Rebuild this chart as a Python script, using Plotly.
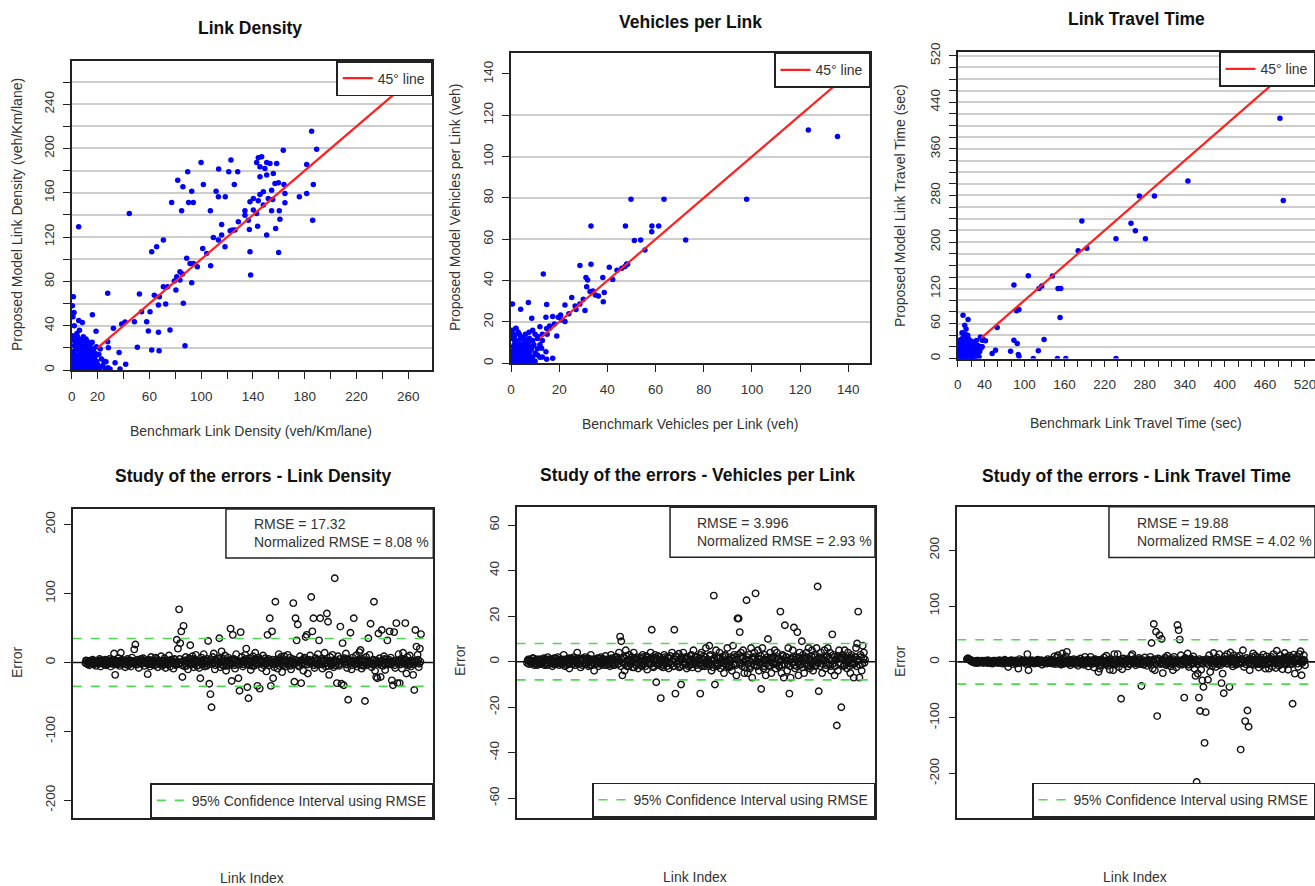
import plotly.graph_objects as go

W, H = 1315, 886
F = "Liberation Sans, Arial, Helvetica, sans-serif"

# ---------------- Panel 1: Link Density (benchmark vs proposed) ----------------
ld_bench = [185.3, 189.2, 163.4, 99.9, 123, 113.5, 121.3, 128.2, 81.9, 89.6, 92.7, 85.9, 101.7, 125.6, 111.5,
            113.3, 118.6, 77.2, 90.3, 93.9, 84.9, 107.1, 115.8, 113.3, 124.1, 70.8, 65.6, 61.8, 101.2, 104.3,
            118.4, 44.5, 5.4, 88.8, 91.4, 107.3, 137.7, 159.8, 138.2, 79.3, 83.6, 85.6, 80.5, 70.8, 92.7,
            63.8, 52.3, 27.8, 67, 72.6, 86.2, 57.9, 48.4, 59.2, 67, 75.9, 87.5, 50.7, 61.8, 67.5,
            32.2, 38.6, 41.2, 27.8, 36.6, 28.3, 16, 5.4, 8.2, 1.3, 1.8, 19.3, 26.5, 33.5, 41.7, 37.3, 29.6,
            144.1, 146.7, 142.8, 150.6, 153.1, 145.4, 149.2, 158.3, 145.4, 150.6, 157, 159.6, 154.4, 148,
            145.4, 163.9, 164.7, 151.8, 155.2, 137.7, 140.3, 133.8, 142.8, 136.4, 154.4, 160.3, 160.8, 143.6,
            137.2, 150.6, 157.5, 175.8, 181.5, 186.6, 186.1, 181.5, 164.7, 140.3, 126.1, 144.1, 148, 155.7,
            94, 97, 109.4, 115.8, 122.4, 133.8, 128.7, 83.6, 81.1, 74.1, 67.7, 60.5, 54,
            0.5, 1, 1.5, 2, 2, 3, 3, 3.5, 4, 4, 5, 5, 5.5, 6, 6, 7, 7, 7.5, 8, 8, 8.5, 9, 9, 10, 10, 10.5,
            11, 11, 12, 12, 12.5, 13, 13, 14, 14, 15, 15, 16, 16, 17, 17, 18, 18, 19, 19, 20, 21, 22, 23,
            24, 26, 28, 2, 1, 0.5, 4, 6, 9, 11, 0.3, 2, 6, 9, 13, 16, 20, 1, 3, 7, 12, 14, 17, 22, 25,
            0.2, 0.8, 1.2, 1.8, 2.5, 2.8, 3.2, 3.8, 4.2, 4.8, 5.2, 5.8, 6.3, 6.8, 7.2, 7.8, 8.3, 8.8, 9.3,
            9.8, 10.3, 10.8, 11.3, 11.8, 12.3, 12.8, 13.3, 13.8, 14.3, 14.8, 15.3, 15.8, 16.3, 16.8, 17.3,
            17.8, 18.3, 18.8, 0.5, 1.5, 2.5, 3.5, 4.5, 5.5, 6.5, 7.5, 8.5, 9.5, 10.5, 11.5, 12.5, 13.5,
            14.5, 15.5, 16.5, 17.5]
ld_model = [215.6, 199.4, 198.5, 187.4, 189.5, 181.4, 179, 179, 171.4, 179, 161.5, 165.4, 167.5, 167.5, 161.5,
            156.4, 156.4, 151.3, 151.3, 151.3, 143.8, 143.8, 131.4, 117.3, 126.3, 117.3, 111.3, 106.8, 109.8, 105.3,
            111.3, 141.4, 129.3, 100.8, 96.2, 94.1, 106.8, 106.2, 85.7, 80.3, 81.2, 86.6, 72.2, 75.2, 78.8,
            67.4, 68.6, 69.2, 58.6, 59.5, 60.2, 43.6, 43.6, 35.2, 34, 36.1, 22, 20.5, 18, 17.4,
            37.6, 41.5, 43.3, 25.6, 15.9, 20.2, 49.9, 44.8, 43, 66.2, 52, 7.5, 7.5, 6.6, 5.1, 0.9, 0.9,
            191.6, 192.5, 187.4, 187.4, 186.5, 183.5, 182, 186.5, 174.4, 176, 168.4, 169, 162.4, 160.9,
            158.5, 167.5, 151, 154.9, 154, 151.9, 144.4, 143.8, 141.4, 135.3, 143.8, 143.8, 136.2, 129.9,
            126.9, 121.8, 127.8, 156.4, 159.4, 167.5, 135.3, 185.6, 159.4, 154.9, 126.3, 152.8, 148.9, 177.4,
            96.2, 93.2, 119.7, 121.8, 125.7, 139.8, 133.8, 88.7, 84.2, 75.2, 66.2, 52.6, 52.6,
            3, 8, 15, 22, 5, 12, 30, 1, 18, 7, 25, 2, 10, 14, 4, 20, 9, 1, 28, 12, 5, 17, 2, 8, 22, 13,
            3, 18, 10, 26, 1, 15, 6, 20, 2, 11, 24, 7, 16, 3, 19, 12, 1, 8, 21, 5, 14, 2, 10,
            4, 1, 2, 40, 48, 58, 33, 36, 30, 28, 0.5, 1, 0.5, 0.5, 0.5, 0.3, 0.5, 27, 20, 15, 4, 9, 13, 19, 8,
            6, 11, 2, 17, 9, 24, 4, 13, 28, 1, 19, 7, 22, 11, 3, 16, 26, 8, 12,
            1, 18, 5, 14, 23, 9, 2, 20, 11, 4, 17, 7, 25, 1, 13,
            10, 4, 15, 35, 31, 27, 12, 9, 30, 5, 24, 13, 19, 6, 10, 22, 17, 3,
            14, 8, 19, 6]
ld_line = [20, 280]
ld_xticks = list(range(0, 261, 20))
ld_xlabels = ["0", "20", "", "60", "", "100", "", "140", "", "180", "", "220", "", "260"]
ld_yticks = list(range(0, 261, 20))
ld_ylabels = ["0", "", "40", "", "80", "", "120", "", "160", "", "200", "", "240", ""]
ld_grid = list(range(20, 261, 20))

# ---------------- Panel 2: Vehicles per Link ----------------
vl_bench = [123.4, 135.5, 97.8, 49.8, 63.5, 33.2, 47.5, 58.5, 61.3, 58.4, 51.2, 53.8, 72.5, 55.6, 47.3,
            48.4, 40.8, 28.6, 33.2, 13.4, 31.1, 31.8, 38.1, 42.2, 31.4, 32.8, 38.7, 36.3, 38.3, 30.7,
            25.2, 28.6, 26.6, 22.4, 14.8, 7.2, 0.6, 4, 19.6, 14.5, 17.3, 19, 22.4, 20.6, 8.6, 2.1, 12,
            14.8, 12.7, 14.5, 17.3, 14.8, 12, 9.5, 7.6, 5.8,
            21, 24, 27, 34, 35, 44, 46, 48, 30, 16, 18, 11, 13, 9,
            0.3, 0.5, 1, 1, 1.5, 2, 2, 2.5, 3, 3, 3.5, 4, 4, 4.5, 5, 5, 5.5, 6, 6, 6.5, 7, 7, 7.5, 8, 8,
            8.5, 9, 9.5, 10, 10, 11, 11, 12, 0.5, 1, 2, 3, 4, 6, 9, 13, 15, 16, 10, 11, 13,
            0.5, 1.5, 3, 6, 9,
            0.3, 0.8, 1.3, 1.8, 2.3, 2.8, 3.3, 3.8, 4.3, 4.8, 5.3, 5.8, 6.3, 6.8, 7.3, 7.8, 8.3, 8.8,
            0.5, 1.5, 2.5, 3.5, 4.5, 5.5, 6.5, 7.5, 1, 2, 3, 4, 5, 6, 7, 8]
vl_model = [112.9, 109.7, 79.4, 79.4, 79.4, 66.5, 66.5, 66.5, 66.5, 63.7, 59.4, 59.7, 59.7, 54.8, 46.8,
            47.9, 46.5, 47.3, 47.9, 43.2, 41.5, 40.3, 41.5, 40.6, 37.1, 34.7, 34.2, 32.6, 29.8, 25.5,
            31.8, 28.7, 27.7, 28.2, 28.5, 29.4, 28.7, 26.1, 22.3, 22.3, 22.6, 13.2, 20.2, 23.4, 21.8, 16.9, 17.7,
            16.9, 7.3, 5.6, 2.4, 1.9, 2.9, 0.8, 12.1, 8.1,
            21, 24, 26, 35, 33, 45, 46, 48, 31, 17, 19, 13, 14, 11,
            1, 4, 8, 2, 11, 0.5, 6, 3, 9, 1, 5, 12, 2, 7, 0.5, 4, 10, 2, 6, 1, 8, 3, 5, 1, 11,
            7, 3, 9, 5, 1, 7, 12, 9, 16, 14, 17, 15, 13, 14, 16, 11, 14, 18, 14, 4, 3,
            0.3, 0.3, 0.2, 0.3, 0.2,
            3, 6, 9, 2, 5, 8, 11, 3, 6, 1, 9, 4, 7, 2, 10, 6, 3, 8,
            12, 13, 10, 14, 9, 12, 11, 15, 5, 3, 7, 4, 2, 8, 5, 2]
vl_line = [12, 150]
vl_ticks = list(range(0, 141, 20))
vl_labels = [str(v) for v in vl_ticks]
vl_grid = list(range(20, 121, 20))

# ---------------- Panel 3: Link Travel Time ----------------
tt_bench = [482.5, 487.5, 344.7, 272, 294.6, 185.9, 259.5, 266, 237, 281.1, 180.4, 193.4, 141.8, 105.7,
            84.2, 121.7, 125.8, 150.3, 154.3, 153.3, 88.2, 91.7, 59.1, 38.1, 41.6, 36.6, 84.2, 89.2, 79.2,
            56.6, 51.6, 90.7, 91.7, 129.3, 120.7, 113.2, 149.3, 161.8, 237, 8, 15.5, 10.5, 12.5, 6.5, 10.5,
            34, 36.6, 36,
            1, 2, 3, 4, 5, 6, 7, 8, 9, 10, 11, 12, 13, 14, 15, 16, 17, 18, 19, 20, 21, 22, 23, 24, 25, 26,
            27, 28, 30, 32, 3, 6, 10, 14, 18, 22, 4, 8, 12, 16, 20, 24, 28, 2, 5, 9, 13, 17, 26, 29, 31,
            33, 35, 15, 11,
            1, 2.5, 4, 5.5, 7, 8.5, 10, 11.5, 13, 14.5, 16, 17.5, 19, 20.5, 22, 23.5, 25, 26.5, 28,
            2, 5, 8, 11, 14, 17, 20, 23, 26, 3, 6, 9, 12, 15, 18, 21, 24, 27, 30]
tt_model = [412.8, 271.2, 305, 279.2, 279.2, 236.2, 232.2, 219.6, 205.8, 205.8, 185.2, 189.2, 141.6, 142.2,
            126.1, 120.4, 124.4, 120.4, 120.4, 70.5, 82, 84.3, 53.3, 32.7, 30.4, 20.1, 31.5, 25.8, 12.6,
            14.3, 8.6, 6.9, 4, 32.7, 13.2, 0, 0, 0, 0, 74.5, 67.1, 57.3, 50.5, 44.2, 37.3,
            37, 31.5, 20,
            2, 8, 15, 22, 5, 12, 28, 3, 18, 9, 25, 1, 14, 6, 20, 10, 2, 16, 26, 7, 12, 3, 19, 9, 1, 14,
            5, 22, 10, 3, 1, 0.5, 0.5, 1, 0.5, 1, 32, 36, 30, 34, 30, 28, 31, 18, 25, 5, 23, 8, 18, 16, 22,
            12, 18, 40, 42,
            10, 4, 16, 20, 6, 12, 24, 3, 9, 18, 14, 5, 22, 9, 15, 6, 11, 3, 8,
            28, 13, 20, 16, 1, 26, 18, 24, 9, 6, 3, 11, 7, 28, 22, 3, 13, 17, 5]
tt_line = [35, 535]
tt_ticks = list(range(0, 521, 20))
tt_xlabel_set = {0, 40, 100, 160, 220, 280, 340, 400, 460, 520}
tt_ylabel_set = {0, 60, 120, 200, 280, 360, 440, 520}
tt_xlabels = [str(v) if v in tt_xlabel_set else "" for v in tt_ticks]
tt_ylabels = [str(v) if v in tt_ylabel_set else "" for v in tt_ticks]
tt_grid = list(range(20, 521, 20))

# ---------------- Error panels (one value per link, 600 links) ----------------
err_ld = [-1, 3, 2, -2, -3, 1, 0, -4, 1, 2, 3, -1, -2, 4, 1, -3, -1, 0, 2, -5,
          0, 2, 1, -2, -2, 5, 3, -6, -1, 1, 2, 3, 0, -3, -2, 4, 1, -4, -3, 2,
          2, -1, -1, 5, 1, -6, -2, 3, 3, 1, 0, 13, -3, -18, 1, 2, -1, -3, 2, 6,
          1, -5, -2, 14, 0, 4, 3, -2, -1, 1, 2, -7, -3, 3, 1, 5, 0, -4, -2, 2,
          3, -6, -1, 7, 2, 0, -2, 19, 1, 26, 0, -3, -3, 4, 2, -8, -1, 2, 1, 5,
          -2, -2, 1, 6, 3, -5, -1, 3, 0, -1, 2, -17, -3, 4, 1, -6, -2, 8, 3, -3,
          0, 2, -1, -4, 2, 7, -3, 5, 1, -7, 3, 1, -2, -2, 0, 9, 2, -5, -1, 3,
          -3, 6, 1, -8, 2, 1, 0, -3, -2, 10, 3, -6, -1, 4, 2, 2, 0, -9, -2, 5,
          4, -4, -3, 33, 1, 20, -2, 77, 5, 28, 0, 45, -4, -21, 2, 53, 3, -6, -1, 8,
          -5, 3, 2, -10, -1, 6, 4, 25, 0, -2, -3, 9, 1, -7, 5, 4, -2, 11, 3, -5,
          1, 2, -4, -8, 3, -23, -1, 7, 2, -3, 0, 12, 4, -6, -2, 1, -5, 5, 2, 31,
          -3, -31, 1, -46, 4, -65, -2, 8, 0, 13, 3, -10, -4, 4, 2, -2, -1, 6, 5, 35,
          0, -7, -3, 16, 2, 3, 5, -5, -1, 10, 1, -12, -5, 2, 3, 7, 0, -4, -2, 49,
          4, -27, -2, 40, 1, 5, -4, -9, 3, 12, 0, -3, 2, -23, -3, -41, 1, 44, -1, 8,
          2, -6, -3, 3, 0, 11, 5, 20, -2, -36, 1, -52, -4, 6, 3, -11, 0, 2, -5, 9,
          1, -5, 4, 14, -2, 4, 0, -34, -3, 7, 2, -38, 5, 3, -1, -8, 2, 10, -4, -2,
          0, 6, 3, -13, -2, 40, 1, 5, -4, 64, 2, -34, -1, 45, 4, -23, -3, -7, 1, 88,
          -2, 4, 0, -9, 3, 12, -1, -5, 5, 8, -3, -14, 2, 3, -4, 9, 1, -6, 0, 2,
          3, 11, -2, -4, 1, 7, -5, -10, 2, 5, 0, 86, -3, -28, 4, 64, -1, 32, 2, 55,
          -4, -6, 1, 9, 3, -30, -2, 3, 0, -12, 5, 7, -1, 37, 2, 40, -3, -16, 1, 4,
          0, 10, -2, 95, 3, 45, 1, 64, -4, -8, 2, 6, -1, -3, 4, 12, -3, 32, 0, 64,
          2, 5, -3, -9, 1, 2, 4, 14, -2, -6, 0, 71, 3, 59, -5, -18, 1, 8, -1, -4,
          -2, 11, 3, -7, 0, 122, -4, 3, 2, -30, 1, 9, -3, -5, 5, 52, -1, -31, 2, 28,
          4, -33, -1, 6, 2, 13, -3, -8, 0, -54, 3, 4, -2, 43, 1, -10, -4, 7, 2, 64,
          -1, -3, 3, 10, 0, -6, -2, 2, 4, 15, 1, 18, -3, -9, 2, 5, -5, -4, 0, -56,
          2, 8, -4, -2, 1, 35, 3, 11, -1, 56, 0, -7, -3, 3, 4, 88, -2, -12, 1, -21,
          3, -23, 0, 42, -2, 6, 1, -21, -4, 47, 2, -5, -1, 9, 5, -11, -3, 4, 0, 32,
          -2, -3, 4, 45, 1, 7, -3, -26, 0, -33, 2, 44, -4, -8, 3, 57, -1, -30, 2, 12,
          1, -30, -3, 5, 2, -9, 0, 14, -2, 3, 4, 57, -1, -16, 3, 8, -4, -4, 1, 10,
          -2, -6, 3, 2, 0, -18, -3, -40, 1, 47, 2, 23, -1, 11, 4, -7, -2, 20, 1, 41]
err_vl = [-0.5, 0.5, 1, -1, 0, 1, 0.5, -0.5, -1, 0, 1.5, 1.5, 0, -1.5, -0.5, 0.5, 1, -1, -1.5, 1,
          0.5, -0.5, -1, 1, 1, -1, -0.5, 0, 0, 0.5, 1.5, -1.5, -1, 1, 0.5, -0.5, -1.5, 2, 1, -1,
          1, 0, -0.5, 1, 0.5, -2, -1, 0.5, 1.5, -1, 0, 1.5, -1, -0.5, 0.5, 2, 1, -1.5, -0.5, 0,
          -1, 1, 0.5, -1, -0.5, 3, 1, -2, 0, 0.5, -1.5, -0.5, 1, 1.5, 0.5, -3, -1, 1, 1.5, 0,
          0.5, -1, -1, 2, 1, -1.5, 0, 0.5, -0.5, 4, 1.5, -1, -1, 1, 0.5, -2.5, 1, 0.5, -1.5, 1.5,
          1, -1, -0.5, 2, 0.5, -0.5, -1, 1, 1.5, -2, 0, 0.5, -1.5, 3, 1, -1.5, -0.5, 1, 0.5, -4,
          -1, 0.5, 1, -1, -0.5, 1.5, 0.5, -2, 1.5, 0, -1, 2, 0, -1, 1, 1, -1.5, -0.5, 0.5, 2.5,
          1, -1.5, -0.5, 0.5, 0.5, 1, -1, -2, 0, 3, 1.5, -0.5, -1.5, 1, 0.5, -1.5, -1, 2, 1, 0,
          2, -1, -1, 4, 0.5, 11, -2, 9, 1, -6, -0.5, 2, 1.5, -4, -1, 5, 2.5, -2, 0, 1,
          -2, 3, 1, -1, -1, 0.5, 2, -2.5, 0, 4, -2.5, 1, 1, -1.5, -0.5, 2, 1.5, -3, -1, 0.5,
          0.5, 1.5, -1.5, -2, 2, 3, -1, -1, 1, 0, -2, 2.5, 0.5, -3.5, 2, 1, -0.5, -1, 1, 4,
          -1, 14, 2, -2, -2.5, 1, 0, 3, 1.5, -9, -1, 0.5, 2.5, -1.5, -0.5, 2, 1, -16, -2, 1,
          1, -2.5, -1.5, 3, 2, -1, 0, 0.5, -2, 2, 1.5, -3, -0.5, 1.5, 2.5, -1, -1, 4, 0.5, -2,
          -2, 14, 1, -14, 2.5, 2, -1, -1, 0.5, 3.5, -2.5, -2, 1, -10, 2, 1, -1.5, 4, 0, -0.5,
          1.5, 2, -1, -3, 2, 1, -2, 0, 0.5, -1.5, 2.5, 3, -1, -2.5, 1, 5, -0.5, -1, 2, 2,
          -1.5, 0.5, 2, -3, -1, 1.5, 0.5, -14, 3, 4, -2, -1, 1, 2.5, -0.5, -2, 2, 6, -1, 0,
          1, -1, -2, 7, 2.5, 3, -1, -4, 0.5, 1, -2.5, 29, 1.5, -10, -0.5, 5, 2, -2, -1.5, 1.5,
          -1, 4, 2, -3, -0.5, 0.5, 1, 2, -2, -5, 2.5, 3, 0, -1, -1.5, 6, 1, -2, -2.5, 1,
          0.5, 2, -2, -4, 1.5, 7, -1, 3, 2, -1, -1.5, -6, 1, 19, 3, 19, -0.5, 13, 2, 4,
          -1, -2, 2, 5, 0, -5, -2.5, 1, 1, 27, 2, -5, -1, 3, 0.5, -3, -2, 6, 1.5, -7,
          1, 2, -1.5, 4, 2, 30, 0, -2, -2, 5, 1.5, -4, -0.5, 1, 2.5, -12, -1, 6, 0.5, -3,
          -2, 3, 1, -6, -1, 0.5, 2, 10, 0.5, -2, -1.5, 4, 1, -5, -0.5, 2, 2, -1, -1, 5,
          1.5, -3, -1, 4, 2, 1, -2, -2, 0, 22, 1, -5, -1.5, 3, 2.5, -7, -1, 16, 0.5, 2,
          2, -4, -1, 6, 0.5, -14, -2, -7, 1.5, 1, -0.5, 5, 2, 15, -1.5, -3, 1, 2, -2, 13,
          0, -6, 2, 4, -1.5, -1, 1, 9, -2.5, 3, 1.5, -5, -1, 2, 0.5, 4, 2, -2, -1, 6,
          1, -3, -2, 1, 2.5, 5, -1, -4, 0, 3, 2, -2, -1.5, 6, 1, 33, -0.5, -13, 1.5, 2,
          -2, 4, 1, -5, -1, 1, 2, 5, 0.5, -3, -1.5, 2, 2.5, 6, -1, -1, 1, 4, -2, -4,
          0.5, 12, -1, 3, 2, -6, -2, 1, 1, -28, 2.5, -4, -0.5, 5, 1.5, 2, -1, -20, 2, 3,
          1, -2, -1.5, 5, 2, 0.5, -1, -3, 0, 4, 1.5, 1, -2, -5, 2, 3, -0.5, -1, 1, -7,
          -1, 2, 2, 6, -2, 8, 1, 22, 0.5, -7, -1.5, 3, 2, -4, -1, 7, 1.5, 4, -0.5, 1]
err_tt = [5, 6, 6, 5, 4, 4, 2, 3, 1, 2, 0, 1, -1, -1, 1, 0, -2, 2, 0, -2,
          2, 1, 0, -1, -1, 0, 1, 2, 0, -2, -1, 1, 2, 0, 0, -1, -2, 3, 1, -2,
          0, 1, -1, 0, 1, -3, -2, 2, 0, -1, 2, 1, -1, 0, 1, -2, 0, 3, -1, -1,
          1, 2, 0, -3, -1, 0, 2, 4, 0, -2, -1, 1, 1, -9, -2, 2, 0, -1, 2, 3,
          0, -4, 1, 0, -1, 2, 2, -3, 0, 1, -2, -12, 1, 5, -1, -2, 2, 0, 0, 3,
          1, -1, -1, 2, 2, -4, 0, 14, -2, -15, 1, 1, -1, -2, 2, 3, 0, 0, -1, -3,
          0, 2, 1, -1, -2, 4, 2, -2, 0, 0, -1, 3, 1, -5, 2, 1, -2, -1, 0, 2,
          2, -3, -1, 5, 1, 0, 3, -2, -2, 4, 0, -1, -3, 2, 1, 10, 2, -4, -1, 8,
          0, 12, 2, -2, -3, 3, 1, -5, -1, 15, 3, 6, 0, -3, -2, 10, 1, 18, 2, -1,
          -3, 4, 1, -6, 2, 2, -1, -2, 3, 5, 0, 0, -2, -4, 1, 3, 4, -7, -1, 1,
          2, 6, -4, -3, 0, 2, 3, -5, -2, 9, 1, -1, -3, 3, 4, -8, 0, 0, 2, 9,
          -1, -4, 3, 2, -2, -10, 1, 5, 4, -1, -3, 3, 0, -18, 2, -12, -4, 4, 1, -6,
          3, 1, -1, 8, 2, -3, -4, 11, 0, -7, 4, 2, -2, -14, 1, 5, 3, -2, -3, -15,
          0, 14, 2, -5, -3, 3, 4, 14, -1, -9, 1, 2, -2, -66, 3, -13, 0, 6, 2, -4,
          -3, 1, 4, 5, 0, -8, 2, 2, -4, -3, 1, 11, 3, 14, -2, -2, 5, 4, -1, -6,
          2, 3, -3, -1, 1, 7, 4, -4, -2, -43, 0, 2, 3, -5, -4, 8, 1, 0, 2, -7,
          -2, 4, 3, -3, 0, 9, -5, 34, 2, -12, 4, 68, -1, -15, 5, 54, -3, -97, 1, 6,
          3, 48, -2, -4, 0, 41, 4, -20, -3, 2, 1, 8, 5, -6, -4, 11, 2, -3, -1, 5,
          4, -8, -2, 3, 1, -15, 5, 9, -3, 1, 2, -10, -1, 66, 3, 57, -4, 40, 0, 12,
          2, -5, -3, 4, 5, -64, 0, 7, -2, -2, 3, 15, -5, -9, 1, 3, 4, 6, -1, -4,
          3, 10, -2, -12, 4, -25, 0, -215, -4, -21, 2, -64, 5, -88, -1, -14, 3, -33, -3, -45,
          1, -145, 4, -90, -2, 5, 2, -32, -5, 12, 3, -18, 0, 3, 4, -7, -3, 16, 1, 2,
          5, -9, -1, 8, 2, -4, -4, 14, 3, -6, 0, -38, 4, -21, -2, -56, 1, 10, 5, 4,
          -3, 14, 2, -3, 4, -45, -1, 17, 3, 6, -4, -8, 1, 12, 5, 2, -2, -5, 0, 9,
          4, -2, -3, 11, 1, -157, 5, 5, -2, 21, 3, -9, 0, -106, -4, 7, 2, -87, 4, -116,
          -1, -15, 5, 3, -3, 9, 2, 15, 0, -5, 4, 11, -2, -3, 3, 7, -4, -10, 1, 4,
          5, 8, -2, -6, 3, 13, 0, 2, -4, -12, 2, 10, 4, -4, -3, -12, 1, 6, 5, 9,
          -2, -8, 3, 14, 0, 3, 4, -11, -3, 20, 2, 5, -1, -7, 5, 12, -4, 1, 3, -13,
          1, 7, -3, 16, 4, -5, 2, 9, -2, -14, 5, 11, 0, -3, 3, 8, -4, -75, 2, 13,
          -1, -21, 4, 6, 2, 10, -3, -9, 5, 14, 0, 19, 3, -24, -2, 4, 1, 12, 3, -6]
rmse_vals = [17.32, 3.996, 19.88]
nrmse_vals = ["8.08", "2.93", "4.02"]
err_yticks = [[-200, -100, 0, 100, 200], [-60, -40, -20, 0, 20, 40, 60], [-200, -100, 0, 100, 200]]

# ---------------- layout geometry (pixels) ----------------
def fx(p):
    return p / W


def fy(p):
    return 1 - p / H


boxes = [
    (71.7, 432.3, 61, 370),
    (511, 870, 52.7, 363.3),
    (957.7, 1315, 51.7, 358.5),
    (72.7, 433.3, 509, 818.3),
    (516.7, 875, 507.3, 817.7),
    (957.3, 1315, 506.7, 817.7),
]
xranges = [[0, 278.5], [0, 149], [0, 535], [-21.9, 622], [-17.3, 617.7], [-16.2, 617.7]]
yranges = [[0, 279], [0, 150.3], [0, 527], [-226, 222.5], [-68.5, 67.8], [-279, 278]]

fig = go.Figure()

BLUE = "#0000ff"
RED = "#ff2020"
GREEN = "#4fd84f"
BOX = "#222222"
GRID = "#cdcdcd"
TXT = "#333333"

scatter_sets = [(ld_bench, ld_model, ld_line), (vl_bench, vl_model, vl_line), (tt_bench, tt_model, tt_line)]
for i, (bx, my, ln) in enumerate(scatter_sets):
    ax = "" if i == 0 else str(i + 1)
    leg = "legend" if i == 0 else "legend" + str(i + 1)
    fig.add_trace(go.Scatter(x=bx, y=my, mode="markers", xaxis="x" + ax, yaxis="y" + ax,
                             marker=dict(color=BLUE, size=5.5, line=dict(width=0)),
                             showlegend=False, hoverinfo="skip"))
    fig.add_trace(go.Scatter(x=ln, y=ln, mode="lines", xaxis="x" + ax, yaxis="y" + ax,
                             line=dict(color=RED, width=2.2), name="45° line", legend=leg,
                             showlegend=True))

err_sets = [err_ld, err_vl, err_tt]
for j, err in enumerate(err_sets):
    k = j + 4
    idx = list(range(1, len(err) + 1))
    fig.add_trace(go.Scatter(x=idx, y=err, mode="markers", xaxis="x%d" % k, yaxis="y%d" % k,
                             marker=dict(symbol="circle-open", color="#111111", size=6.5,
                                         line=dict(width=1.4, color="#111111")),
                             showlegend=False, hoverinfo="skip"))
    ci = 2 * rmse_vals[j]
    x0, x1 = xranges[k - 1]
    fig.add_trace(go.Scatter(x=[x0, x1, None, x0, x1], y=[ci, ci, None, -ci, -ci], mode="lines",
                             xaxis="x%d" % k, yaxis="y%d" % k,
                             line=dict(color=GREEN, width=1.6, dash="dash"),
                             name="95% Confidence Interval using RMSE", legend="legend%d" % k,
                             showlegend=True))
    fig.add_shape(type="line", xref="x%d domain" % k, yref="y%d" % k, x0=0, x1=1, y0=0, y1=0,
                  line=dict(color="#111111", width=1.6), layer="above")

# ---------------- axes ----------------
tick_font = dict(family=F, size=13.5, color=TXT)
scatter_ticks = [
    (ld_xticks, ld_xlabels, ld_yticks, ld_ylabels, ld_grid),
    (vl_ticks, vl_labels, vl_ticks, vl_labels, vl_grid),
    (tt_ticks, tt_xlabels, tt_ticks, tt_ylabels, tt_grid),
]
layout_axes = {}
for n in range(6):
    x0, x1, y0, y1 = boxes[n]
    sfx = "" if n == 0 else str(n + 1)
    right_open = n in (2, 5)
    xa = dict(domain=[fx(x0), fx(x1)], range=xranges[n], anchor="y" + sfx,
              showline=True, mirror=True, linecolor=BOX, linewidth=1.5,
              showgrid=False, zeroline=False, fixedrange=True, tickfont=tick_font,
              ticklabeloverflow="allow", automargin=False)
    ya = dict(domain=[fy(y1), fy(y0)], range=yranges[n], anchor="x" + sfx,
              showline=True, mirror=not right_open, linecolor=BOX, linewidth=1.5,
              showgrid=False, zeroline=False, fixedrange=True, tickfont=tick_font,
              tickangle=-90, ticks="outside", ticklen=7, tickcolor=BOX, tickwidth=1,
              ticklabelstandoff=4, ticklabeloverflow="allow", automargin=False)
    if n < 3:
        xt, xl, yt, yl, gr = scatter_ticks[n]
        xa.update(tickmode="array", tickvals=xt, ticktext=xl, ticks="outside", ticklen=7,
                  tickcolor=BOX, tickwidth=1, ticklabelstandoff=6)
        ya.update(tickmode="array", tickvals=yt, ticktext=yl,
                  minor=dict(tickmode="array", tickvals=gr, showgrid=True, gridcolor=GRID,
                             gridwidth=1.6, ticks=""))
    else:
        xa.update(showticklabels=False, ticks="")
        ya.update(tickmode="array", tickvals=err_yticks[n - 3],
                  ticktext=[str(v) for v in err_yticks[n - 3]])
    layout_axes["xaxis" + sfx] = xa
    layout_axes["yaxis" + sfx] = ya

# ---------------- legends ----------------
legends = {}
for n in range(6):
    x0, x1, y0, y1 = boxes[n]
    name = "legend" if n == 0 else "legend%d" % (n + 1)
    if n < 3:
        legends[name] = dict(x=fx(x1), xanchor="right", y=fy(y0), yanchor="top",
                             bgcolor="white", bordercolor=BOX, borderwidth=1.5,
                             font=dict(family=F, size=14, color=TXT), itemwidth=30)
    else:
        legends[name] = dict(x=fx(x1), xanchor="right", y=fy(y1), yanchor="bottom",
                             bgcolor="white", bordercolor=BOX, borderwidth=1.5,
                             font=dict(family=F, size=14, color=TXT), itemwidth=30)

# ---------------- RMSE boxes ----------------
rmse_box_left = [0.425, 0.428, 0.424]
rmse_box_bottom = [0.8416, 0.839, 0.837]
rmse_text_left = [0.497, 0.498, 0.497]
for j in range(3):
    k = j + 4
    fig.add_shape(type="rect", xref="x%d domain" % k, yref="y%d domain" % k,
                  x0=rmse_box_left[j], x1=1, y0=rmse_box_bottom[j], y1=1,
                  fillcolor="white", line=dict(color=BOX, width=1.5), layer="above")
    fig.add_annotation(xref="x%d domain" % k, yref="y%d domain" % k,
                       x=rmse_text_left[j], y=(1 + rmse_box_bottom[j]) / 2,
                       xanchor="left", yanchor="middle", align="left", showarrow=False,
                       text="RMSE = %s<br>Normalized RMSE = %s %%" % (rmse_vals[j], nrmse_vals[j]),
                       font=dict(family=F, size=14, color=TXT))

# ---------------- titles & axis titles ----------------
titles = [
    ("Link Density", 250, 28),
    ("Vehicles per Link", 690, 22),
    ("Link Travel Time", 1136, 19),
    ("Study of the errors - Link Density", 253, 476),
    ("Study of the errors - Vehicles per Link", 697, 475),
    ("Study of the errors - Link Travel Time", 1136, 476),
]
for t, x, y in titles:
    fig.add_annotation(xref="paper", yref="paper", x=fx(x), y=fy(y), xanchor="center",
                       yanchor="middle", showarrow=False, text=t,
                       font=dict(family=F, size=17.5, color="#111111", weight="bold"))

xtitles = [
    ("Benchmark Link Density (veh/Km/lane)", 251, 431),
    ("Benchmark Vehicles per Link (veh)", 690, 424),
    ("Benchmark Link Travel Time (sec)", 1136, 423),
    ("Link Index", 252, 878),
    ("Link Index", 695, 877),
    ("Link Index", 1135, 877),
]
for t, x, y in xtitles:
    fig.add_annotation(xref="paper", yref="paper", x=fx(x), y=fy(y), xanchor="center",
                       yanchor="middle", showarrow=False, text=t,
                       font=dict(family=F, size=14, color=TXT))

ytitles = [
    ("Proposed Model Link Density (veh/Km/lane)", 17, 215),
    ("Proposed Model Vehicles per Link (veh)", 455, 208),
    ("Proposed Model Link Travel Time (sec)", 900, 206),
    ("Error", 17, 663),
    ("Error", 460, 661),
    ("Error", 900, 662),
]
for t, x, y in ytitles:
    fig.add_annotation(xref="paper", yref="paper", x=fx(x), y=fy(y), xanchor="center",
                       yanchor="middle", showarrow=False, text=t, textangle=-90,
                       font=dict(family=F, size=14, color=TXT))

fig.update_layout(
    width=W, height=H, autosize=False,
    margin=dict(l=0, r=0, t=0, b=0, pad=0, autoexpand=False),
    paper_bgcolor="white", plot_bgcolor="white",
    font=dict(family=F, size=14, color=TXT),
    hovermode=False,
    **layout_axes,
    **legends,
)

fig.write_html("out.html", config={"displayModeBar": False})
